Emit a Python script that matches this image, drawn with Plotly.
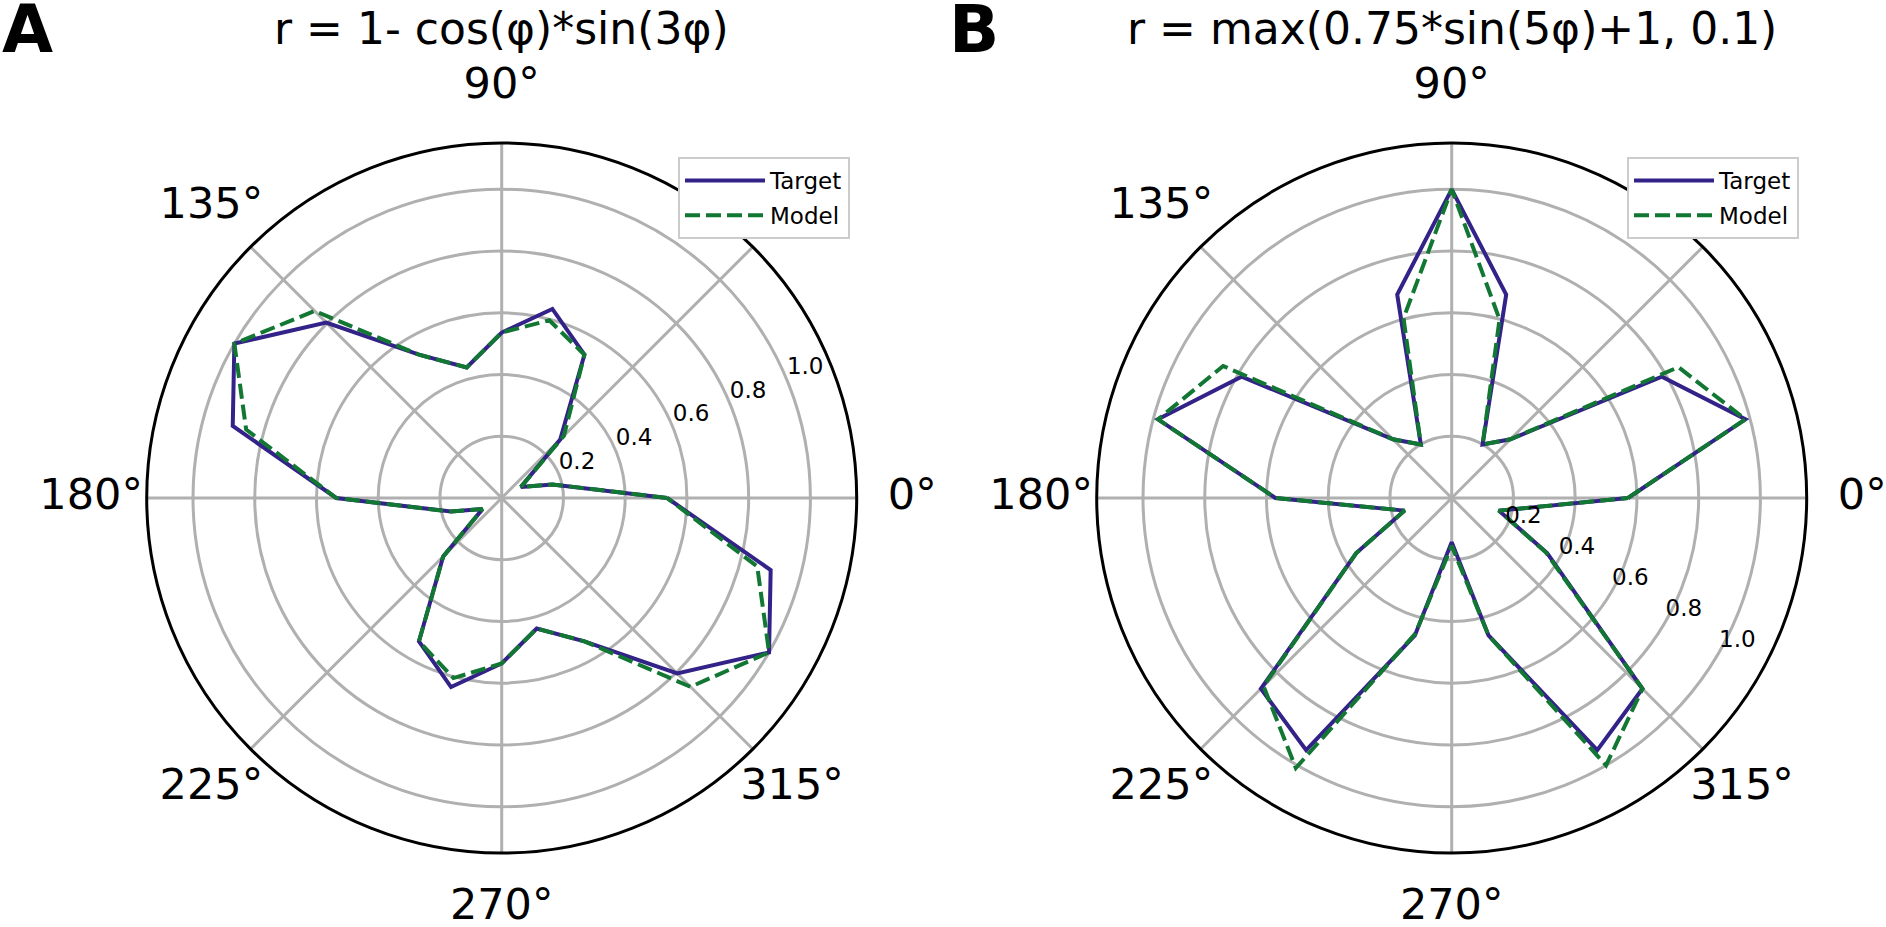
import plotly.graph_objects as go

# ---- data ----
angles = [0, 15, 30, 45, 60, 75, 90, 105, 120, 135, 150, 165,
          180, 195, 210, 225, 240, 255, 270, 285, 300, 315, 330, 345, 360]

a_target = [0.536, 0.170, 0.072, 0.268, 0.536, 0.634, 0.536, 0.438, 0.536, 0.804, 1.000, 0.902,
            0.536, 0.170, 0.072, 0.268, 0.536, 0.634, 0.536, 0.438, 0.536, 0.804, 1.000, 0.902, 0.536]
a_model = [0.536, 0.170, 0.072, 0.285, 0.536, 0.596, 0.536, 0.438, 0.536, 0.857, 1.000, 0.857,
           0.536, 0.170, 0.072, 0.268, 0.536, 0.604, 0.536, 0.438, 0.536, 0.865, 1.000, 0.857, 0.536]

b_target = [0.571, 0.985, 0.786, 0.269, 0.200, 0.682, 1.000, 0.682, 0.200, 0.269, 0.786, 0.985,
            0.571, 0.158, 0.357, 0.874, 0.943, 0.461, 0.143, 0.461, 0.943, 0.874, 0.357, 0.158, 0.571]
b_model = [0.571, 0.985, 0.848, 0.269, 0.200, 0.599, 1.000, 0.603, 0.200, 0.269, 0.855, 0.985,
           0.571, 0.158, 0.357, 0.862, 1.010, 0.455, 0.155, 0.461, 1.000, 0.874, 0.352, 0.158, 0.571]

grid_angles = [0, 45, 90, 135, 180, 225, 270, 315]
ang_label_angles = [0, 90, 135, 180, 225, 270, 315]
ang_labels = ["0°", "90°", "135°", "180°", "225°", "270°", "315°"]
r_ticks = [0.2, 0.4, 0.6, 0.8, 1.0]
r_labels = ["0.2", "0.4", "0.6", "0.8", "1.0"]

title_a = "r = 1- cos(φ)*sin(3φ)"
title_b = "r = max(0.75*sin(5φ)+1, 0.1)"

TARGET_COLOR = "#332288"
MODEL_COLOR = "#117733"
FONT = "DejaVu Sans"
W, H = 1886, 927
R_MAX = 1.15          # radial range of the data panels
LABEL_R = 1.33        # radius of the angle labels
OUTER_MAX = 1.38      # radial range of the (invisible) label layer
R = 355               # pixel radius of the data panels
CY = H - 498

fig = go.Figure()

def add_panel(sub, label_sub, legend, t, m, tag, rl_angle):
    fig.add_trace(go.Scatterpolar(r=t, theta=angles, mode="lines", name="Target",
                                  line=dict(color=TARGET_COLOR, width=4),
                                  subplot=sub, legend=legend, legendgroup=tag + "t"))
    fig.add_trace(go.Scatterpolar(r=m, theta=angles, mode="lines", name="Model",
                                  line=dict(color=MODEL_COLOR, width=4, dash="15px,6px"),
                                  subplot=sub, legend=legend, legendgroup=tag + "m"))
    # radial tick labels
    fig.add_trace(go.Scatterpolar(r=r_ticks, theta=[rl_angle] * len(r_ticks), mode="text",
                                  text=r_labels, textposition="top right",
                                  textfont=dict(family=FONT, size=23, color="black"),
                                  cliponaxis=False, showlegend=False, hoverinfo="skip",
                                  subplot=sub))
    # angular tick labels
    fig.add_trace(go.Scatterpolar(r=[LABEL_R] * len(ang_labels), theta=ang_label_angles,
                                  mode="text", text=ang_labels, textposition="middle center",
                                  textfont=dict(family=FONT, size=43, color="black"),
                                  cliponaxis=False, showlegend=False, hoverinfo="skip",
                                  subplot=label_sub))

add_panel("polar", "polar3", "legend", a_target, a_model, "a", 22.5)
add_panel("polar2", "polar4", "legend2", b_target, b_model, "b", -30)

def dom(cx, rad):
    return dict(x=[(cx - rad) / W, (cx + rad) / W], y=[(CY - rad) / H, (CY + rad) / H])

def polar_cfg(cx):
    return dict(
        domain=dom(cx, R),
        bgcolor="white",
        radialaxis=dict(range=[0, R_MAX], tickmode="array", tickvals=r_ticks,
                        showticklabels=False, showline=False, ticks="",
                        gridcolor="#b0b0b0", gridwidth=2.7),
        angularaxis=dict(rotation=0, direction="counterclockwise", tickmode="array",
                         tickvals=grid_angles, showticklabels=False, ticks="",
                         showline=True, linecolor="black", linewidth=3,
                         gridcolor="#b0b0b0", gridwidth=2.7),
    )

def label_cfg(cx):
    return dict(
        domain=dom(cx, R * OUTER_MAX / R_MAX),
        bgcolor="rgba(0,0,0,0)",
        radialaxis=dict(range=[0, OUTER_MAX], visible=False),
        angularaxis=dict(rotation=0, direction="counterclockwise", visible=False),
    )

leg_common = dict(xanchor="left", yanchor="top", bgcolor="white", bordercolor="#cccccc",
                  borderwidth=2, itemwidth=80, tracegroupgap=2,
                  font=dict(family=FONT, size=23, color="black"))

fig.update_layout(
    width=W, height=H, margin=dict(l=0, r=0, t=0, b=0),
    paper_bgcolor="white", plot_bgcolor="white",
    font=dict(family=FONT, color="black"),
    polar=polar_cfg(501.7),
    polar2=polar_cfg(1451.7),
    polar3=label_cfg(501.7),
    polar4=label_cfg(1451.7),
    legend=dict(x=678 / W, y=1 - 157 / H, **leg_common),
    legend2=dict(x=1627 / W, y=1 - 157 / H, **leg_common),
    annotations=[
        dict(text="<b>A</b>", x=0, y=1.012, xref="paper", yref="paper", xanchor="left", yanchor="top",
             showarrow=False, font=dict(family=FONT, size=66, color="black")),
        dict(text="<b>B</b>", x=947 / W, y=1.012, xref="paper", yref="paper", xanchor="left", yanchor="top",
             showarrow=False, font=dict(family=FONT, size=66, color="black")),
        dict(text=title_a, x=501.7 / W, y=1 - 28 / H, xref="paper", yref="paper", xanchor="center",
             yanchor="middle", showarrow=False, font=dict(family=FONT, size=44, color="black")),
        dict(text=title_b, x=1451.7 / W, y=1 - 28 / H, xref="paper", yref="paper", xanchor="center",
             yanchor="middle", showarrow=False, font=dict(family=FONT, size=44, color="black")),
    ],
)

fig.write_html("out.html")
